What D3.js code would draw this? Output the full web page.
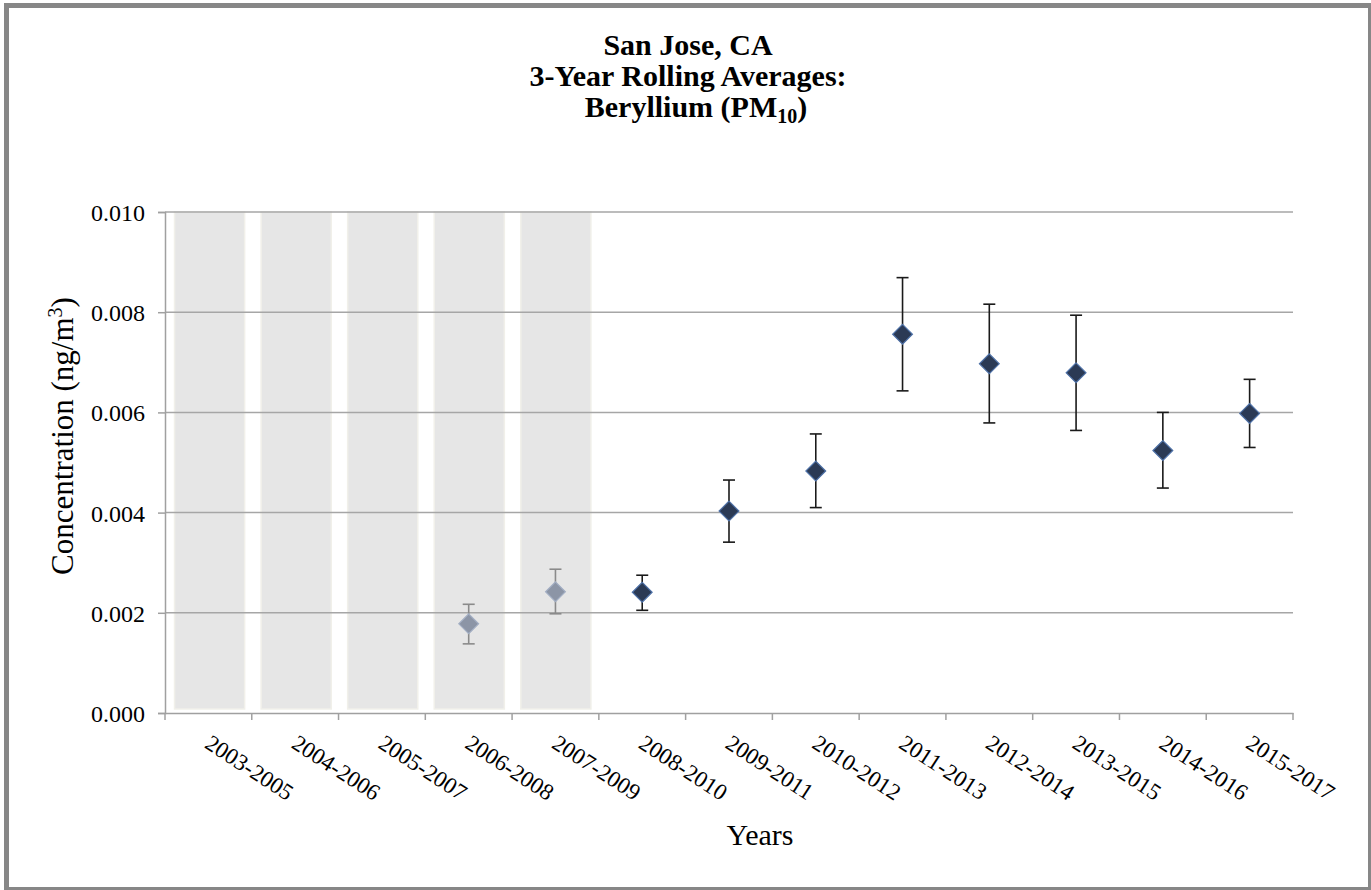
<!DOCTYPE html>
<html>
<head>
<meta charset="utf-8">
<script src="https://cdn.jsdelivr.net/npm/d3@7"></script>
<style>
  body { margin: 0; background: #fff; }
  svg text { font-family: "Liberation Serif", "Times New Roman", serif; fill: #000; }
</style>
</head>
<body>
<div id="chart"></div>
<script>
// categories (3-year periods)
const periods = ["2003-2005", "2004-2006", "2005-2007", "2006-2008", "2007-2009", "2008-2010",
  "2009-2011", "2010-2012", "2011-2013", "2012-2014", "2013-2015", "2014-2016", "2015-2017"];
// rolling averages with confidence interval bounds (ng/m3)
const avgValues = [null, null, null, 0.00178, 0.00242, 0.00241, 0.00403, 0.00483, 0.00756, 0.00697, 0.00679, 0.00524, 0.00598];
const upperValues = [null, null, null, 0.00217, 0.00287, 0.00275, 0.00465, 0.00557, 0.00869, 0.00816, 0.00794, 0.00600, 0.00666];
const lowerValues = [null, null, null, 0.00138, 0.00198, 0.00205, 0.00341, 0.00410, 0.00643, 0.00579, 0.00564, 0.00449, 0.00530];
// periods without complete data (shaded)
const shadedPeriods = ["2003-2005", "2004-2006", "2005-2007", "2006-2008", "2007-2009"];
const yTicks = [0, 0.002, 0.004, 0.006, 0.008, 0.010];

const W = 1371, H = 890;
const margin = {top: 212, right: 78, bottom: 177, left: 165};
const width = W - margin.left - margin.right,
      height = H - margin.top - margin.bottom;

const svg = d3.select("#chart").append("svg")
  .attr("width", W).attr("height", H);

// outer frame
svg.append("rect")
  .attr("x", 6.5).attr("y", 5.5).attr("width", 1364).attr("height", 884)
  .attr("fill", "#fff").attr("stroke", "#878787").attr("stroke-width", 5);

// title, one text per line
const tx = 688;
const titleStyle = sel => sel.attr("text-anchor", "middle")
  .style("font-weight", "bold").style("font-size", "30px");
svg.append("text").call(titleStyle).attr("x", tx).attr("y", 55).text("San Jose, CA");
svg.append("text").call(titleStyle).attr("x", tx).attr("y", 86).text("3-Year Rolling Averages:");
const t3 = svg.append("text").call(titleStyle).attr("x", tx + 8).attr("y", 117);
t3.append("tspan").text("Beryllium (PM");
t3.append("tspan").attr("dy", 6).style("font-size", "20px").text("10");
t3.append("tspan").attr("dy", -6).text(")");

const g = svg.append("g").attr("transform", `translate(${margin.left},${margin.top})`);

const x = d3.scaleBand().domain(periods).range([0, width]);
const xBar = d3.scaleBand().domain(periods).range([0, width]).paddingInner(0.19).paddingOuter(0.11);
const y = d3.scaleLinear().domain([0, 0.010]).range([height, 0]);

// shaded periods
g.selectAll("rect.shade")
  .data(shadedPeriods)
  .join("rect")
  .attr("class", "shade")
  .attr("x", d => xBar(d))
  .attr("y", y(0.010))
  .attr("width", xBar.bandwidth())
  .attr("height", y(0.00008) - y(0.010))
  .attr("fill", "#e6e6e6")
  .attr("stroke", "#f1f0ea")
  .attr("stroke-width", 1.5);

// gridlines
g.selectAll("line.grid")
  .data(yTicks.filter(d => d > 0))
  .join("line")
  .attr("class", "grid")
  .attr("x1", 0).attr("x2", width)
  .attr("y1", d => y(d)).attr("y2", d => y(d))
  .attr("stroke", "#a6a6a6").attr("stroke-width", 1.5);

// y axis
const yAxis = g.append("g")
  .call(d3.axisLeft(y).tickValues(yTicks).tickFormat(d3.format(".3f")).tickSize(7).tickPadding(13));
yAxis.select(".domain").attr("stroke", "#a0a0a0").attr("stroke-width", 1.5);
yAxis.selectAll(".tick line").attr("stroke", "#a0a0a0").attr("stroke-width", 1.5);
yAxis.selectAll(".tick text").style("font-size", "24px").attr("dy", "0.35em");

// x axis
const xAxis = g.append("g")
  .attr("transform", `translate(0,${height})`)
  .call(d3.axisBottom(x).tickSize(0).tickSizeOuter(0));
xAxis.select(".domain").attr("stroke", "#a0a0a0").attr("stroke-width", 1.5);
xAxis.selectAll(".tick text")
  .style("font-size", "23px")
  .attr("text-anchor", "start")
  .attr("y", 0).attr("dy", 0)
  .attr("transform", "translate(-5,34) rotate(33)");

// boundary ticks on x axis
const bounds = periods.map(p => x(p)).concat([width]);
xAxis.selectAll("line.bound")
  .data(bounds)
  .join("line")
  .attr("class", "bound")
  .attr("x1", d => d).attr("x2", d => d)
  .attr("y1", 0).attr("y2", 7)
  .attr("stroke", "#a0a0a0").attr("stroke-width", 1.5);

// axis titles
svg.append("text")
  .attr("x", 760).attr("y", 845)
  .attr("text-anchor", "middle")
  .style("font-size", "30px")
  .text("Years");

const yTitle = svg.append("text")
  .attr("transform", "translate(73,436) rotate(-90)")
  .attr("text-anchor", "middle")
  .style("font-size", "31px");
yTitle.append("tspan").text("Concentration (ng/m");
yTitle.append("tspan").attr("dy", -11).style("font-size", "20px").text("3");
yTitle.append("tspan").attr("dy", 11).text(")");

// points with error bars
const pts = periods.map((p, i) => ({
  period: p, avg: avgValues[i], hi: upperValues[i], lo: lowerValues[i],
  shaded: shadedPeriods.includes(p)
})).filter(d => d.avg !== null);

const cx = d => x(d.period) + x.bandwidth() / 2;
const capW = 6;

const eb = g.selectAll("g.err")
  .data(pts)
  .join("g")
  .attr("class", "err")
  .attr("stroke", d => d.shaded ? "#8a8a8a" : "#1a1a1a")
  .attr("stroke-width", 1.6);
eb.append("line")
  .attr("x1", cx).attr("x2", cx)
  .attr("y1", d => y(d.hi)).attr("y2", d => y(d.lo));
eb.append("line")
  .attr("x1", d => cx(d) - capW).attr("x2", d => cx(d) + capW)
  .attr("y1", d => y(d.hi)).attr("y2", d => y(d.hi));
eb.append("line")
  .attr("x1", d => cx(d) - capW).attr("x2", d => cx(d) + capW)
  .attr("y1", d => y(d.lo)).attr("y2", d => y(d.lo));

const diamond = d3.symbol().type(d3.symbolDiamond2).size(250);
g.selectAll("path.pt")
  .data(pts)
  .join("path")
  .attr("class", "pt")
  .attr("d", diamond)
  .attr("transform", d => `translate(${cx(d)},${y(d.avg)})`)
  .attr("fill", d => d.shaded ? "#8c95a6" : "#2b3a55")
  .attr("stroke", d => d.shaded ? "#a3afc4" : "#4f72a8")
  .attr("stroke-width", 1.2);
</script>
</body>
</html>
